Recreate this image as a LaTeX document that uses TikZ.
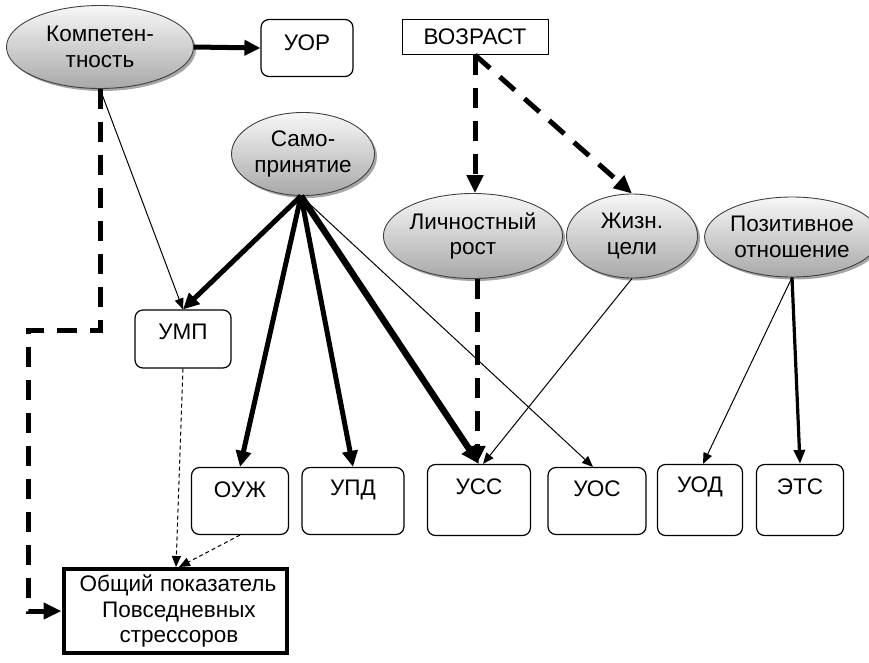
\documentclass[tikz,border=0pt]{standalone}
\usepackage{fontspec}
\setmainfont{Liberation Sans}
\usetikzlibrary{shapes.geometric,arrows.meta,shadows}
\begin{document}
\begin{tikzpicture}[x=1pt,y=-1pt,
  font=\fontsize{22.5}{25.5}\selectfont,
  oval/.style={ellipse, draw=black!75, line width=0.9pt, top color=gray!6, bottom color=gray!68,
    inner sep=0pt, align=center,
    drop shadow={shadow xshift=2.5pt, shadow yshift=-2.5pt, opacity=0.35, fill=black}},
  rbox/.style={draw, rounded corners=8pt, line width=1.2pt, fill=white, inner sep=0pt},
  thickA/.style={line width=5pt, -{Triangle[length=16pt,width=15pt]}},
  heavyA/.style={line width=6.5pt, -{Triangle[length=18pt,width=17pt]}},
  midA/.style={line width=3.2pt, -{Triangle[length=14pt,width=11pt]}},
  thinA/.style={line width=1pt, -{Triangle[length=11pt,width=9pt]}},
  bigdash/.style={line width=5pt, dash pattern=on 20pt off 13pt, -{Triangle[length=18pt,width=16pt]}},
  smalldash/.style={line width=1pt, dash pattern=on 4pt off 3pt, -{Triangle[length=11pt,width=9pt]}},
]
\useasboundingbox (0,0) rectangle (869,663);

% ellipses
\node[oval, minimum width=187pt, minimum height=83pt] (komp) at (100,47) {Компетен-\\тность};
\node[oval, minimum width=143pt, minimum height=83pt] (samo) at (303,154) {Само-\\принятие};
\node[oval, minimum width=167pt, minimum height=85pt] (lich) at (473,236) {Личностный\\рост};
\node[oval, minimum width=131pt, minimum height=84pt] (jizn) at (632,236) {Жизн.\\цели};
\node[oval, minimum width=151pt, minimum height=80pt] (pos) at (792,237) {Позитивное\\отношение};

% top boxes
\node[rbox, minimum width=92pt, minimum height=57pt, label={[yshift=5pt]center:УОР}] (uor) at (307,48) {};
\node[draw, line width=1pt, minimum width=146pt, minimum height=35pt, inner sep=0pt] (voz) at (475,37) {ВОЗРАСТ};

% middle/bottom boxes
\node[rbox, minimum width=96pt, minimum height=58pt, label={[yshift=7pt]center:УМП}] (ump) at (183,339) {};
\node[rbox, minimum width=97pt, minimum height=67pt, label={[yshift=11pt]center:ОУЖ}] (ouzh) at (240,501) {};
\node[rbox, minimum width=102pt, minimum height=67pt, label={[yshift=11pt]center:УПД}] (upd) at (353,501) {};
\node[rbox, minimum width=103pt, minimum height=71pt, label={[yshift=13pt]center:УСС}] (uss) at (479,500) {};
\node[rbox, minimum width=98pt, minimum height=67pt, label={[yshift=12pt]center:УОС}] (uos) at (597,501) {};
\node[rbox, minimum width=85pt, minimum height=71pt, label={[yshift=13pt]center:УОД}] (uod) at (700,500) {};
\node[rbox, minimum width=87pt, minimum height=71pt, label={[yshift=13pt]center:ЭТС}] (ets) at (800,500) {};

\node[draw, line width=4pt, minimum width=223pt, minimum height=84pt, align=center, inner sep=0pt] (obs) at (175,611) {\hspace*{6pt}Общий показатель\\\hspace*{8pt}Повседневных\\\hspace*{8pt}стрессоров};

\coordinate (sp) at (301,196);

% connectors
\draw[thickA] (komp.east) -- (uor.west);
\draw[thinA] (komp.south) -- (ump.north);
\draw[bigdash] (komp.south) -- (100,330) -- (28,330) |- (obs.west);

\draw[thickA] (sp) -- (ump.north);
\draw[thickA] (sp) -- (ouzh.north);
\draw[thickA] (sp) -- (upd.north);
\draw[heavyA] (sp) -- (uss.north);
\draw[thinA] (sp) -- ([xshift=-4pt]uos.north);

\draw[bigdash] (voz.south) -- (voz.south |- lich.north);
\draw[bigdash] (voz.south) -- (jizn.north);
\draw[bigdash] ([xshift=4pt]lich.south) -- ([xshift=-2pt]uss.north);
\draw[thinA] (jizn.south) -- ([xshift=4pt]uss.north);

\draw[thinA] (pos.south) -- ([xshift=3pt]uod.north);
\draw[midA] (pos.south) -- (ets.north);

\draw[smalldash] (ump.south) -- ([xshift=1pt]obs.north);
\draw[smalldash] (ouzh.south) -- ([xshift=4pt]obs.north);
\end{tikzpicture}
\end{document}
